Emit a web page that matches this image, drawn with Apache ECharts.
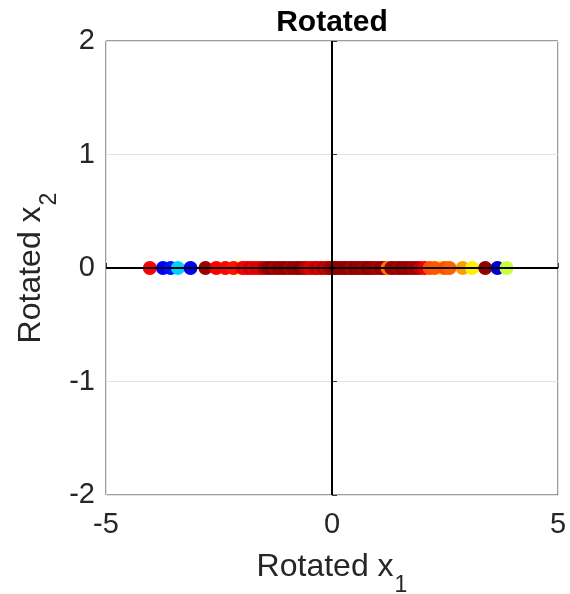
<!DOCTYPE html>
<html>
<head>
<meta charset="utf-8">
<script src="https://cdn.jsdelivr.net/npm/echarts@6/dist/echarts.min.js"></script>
<style>
  html, body { margin: 0; padding: 0; background: #fff; }
  #chart { width: 570px; height: 594px; }
</style>
</head>
<body>
<div id="chart"></div>
<script>
// Projected samples along the first rotated axis (x2 collapses to 0)
const rotX1 = [
  -4.03, -3.74, -3.57, -3.41, -3.13, -2.80, -2.07, -2.56, -2.36, -2.18,
  -1.98, -1.90, -1.82, -1.74, -1.66, -1.58, -1.50, -1.42, -1.34, -1.26,
  -1.18, -1.10, -1.02, -0.94, -0.86, -0.78, -0.70, -0.62, -0.55, -0.47,
  -0.40, -0.33, -0.26, -0.19, -0.12, -0.05, 0.02, 0.09, 0.16, 0.23,
  0.30, 0.37, 0.44, 0.51, 0.58, 0.65, 0.72, 0.79, 0.86, 0.93,
  1.00, 1.08, 1.15, 1.23, 1.31, 1.39, 1.47, 1.55, 1.63, 1.71,
  1.79, 1.87, 1.95, 2.05, 2.16, 2.42, 2.27, 2.50, 2.60, 2.89,
  3.10, 3.39, 3.66, 3.86
];
const rotX2 = rotX1.map(() => 0);
// Colour value of each sample (mapped through the jet colormap)
const colorValue = [
  0.88, 0.12, 0.14, 0.33, 0.11, 0.97, 0.62, 0.88, 0.87, 0.86,
  0.90, 0.88, 0.92, 0.89, 0.91, 0.90, 0.95, 0.97, 0.99, 0.96,
  0.98, 0.97, 0.99, 0.96, 0.98, 0.97, 0.99, 0.96, 0.93, 0.90,
  0.92, 0.94, 0.91, 0.95, 0.93, 0.96, 0.97, 0.99, 0.98, 0.97,
  0.99, 0.98, 0.96, 0.99, 0.97, 0.98, 0.96, 0.99, 0.98, 0.97,
  0.96, 0.98, 0.97, 0.76, 0.97, 0.98, 0.96, 0.99, 0.97, 0.98,
  0.96, 0.97, 0.93, 0.89, 0.80, 0.68, 0.79, 0.80, 0.78, 0.72,
  0.64, 0.98, 0.08, 0.57
];
const xTicks = [-5, 0, 5];
const yTicks = [-2, -1, 0, 1, 2];

const jet = ['#000080', '#0000ff', '#0080ff', '#00ffff', '#80ff80',
             '#ffff00', '#ff8000', '#ff0000', '#800000'];

const points = rotX1.map((x, i) => [x, rotX2[i], colorValue[i]]);

const FONT = 'Liberation Sans, Arial, Helvetica, sans-serif';
const INK = '#262626';

const nameRich = {
  t: { fontFamily: FONT, fontSize: 32, color: INK },
  s: { fontFamily: FONT, fontSize: 23, color: INK, padding: [36, 0, 0, 1] }
};

const chart = echarts.init(document.getElementById('chart'), null, { renderer: 'canvas' });
chart.setOption({
  animation: false,
  backgroundColor: '#ffffff',
  title: {
    text: 'Rotated',
    left: 332,
    top: 8,
    padding: 0,
    textAlign: 'center',
    textStyle: { fontFamily: FONT, fontSize: 30, fontWeight: 'bold', color: '#000' }
  },
  grid: {
    left: 106, top: 41, width: 452, height: 454,
    containLabel: false,
    outerBoundsMode: 'none',
    show: true, borderColor: '#3a3a3a', borderWidth: 1, backgroundColor: 'transparent'
  },
  xAxis: {
    type: 'value',
    min: xTicks[0], max: xTicks[xTicks.length - 1], interval: 5,
    name: '{t|Rotated x}{s|1}',
    nameLocation: 'middle',
    nameGap: 43,
    nameMoveOverlap: false,
    nameTextStyle: { fontFamily: FONT, color: INK, rich: nameRich },
    axisLine: { show: false },
    axisTick: { show: true, inside: true, length: 5, lineStyle: { color: '#3a3a3a' } },
    axisLabel: { fontFamily: FONT, fontSize: 29, color: INK, margin: 15 },
    splitLine: { show: true, lineStyle: { color: '#e3e3e3', width: 1 } }
  },
  yAxis: {
    type: 'value',
    min: yTicks[0], max: yTicks[yTicks.length - 1], interval: 1,
    name: '{t|Rotated x}{s|2}',
    nameLocation: 'middle',
    nameRotate: 90,
    nameGap: 45,
    nameMoveOverlap: false,
    nameTextStyle: { fontFamily: FONT, color: INK, rich: nameRich },
    axisLine: { show: false },
    axisTick: { show: true, inside: true, length: 5, lineStyle: { color: '#3a3a3a' } },
    axisLabel: { fontFamily: FONT, fontSize: 29, color: INK, margin: 11, padding: [6, 0, 0, 0] },
    splitLine: { show: true, lineStyle: { color: '#e3e3e3', width: 1 } }
  },
  visualMap: {
    show: false,
    type: 'continuous',
    seriesIndex: 0,
    dimension: 2,
    min: 0, max: 1,
    inRange: { color: jet }
  },
  series: [{
    type: 'scatter',
    data: points,
    symbol: 'circle',
    symbolSize: 14,
    itemStyle: { opacity: 1 },
    markLine: {
      silent: true,
      symbol: ['none', 'none'],
      label: { show: false },
      lineStyle: { color: '#000', width: 2, type: 'solid' },
      data: [{ xAxis: 0 }, { yAxis: 0 }]
    }
  }]
});
</script>
</body>
</html>
